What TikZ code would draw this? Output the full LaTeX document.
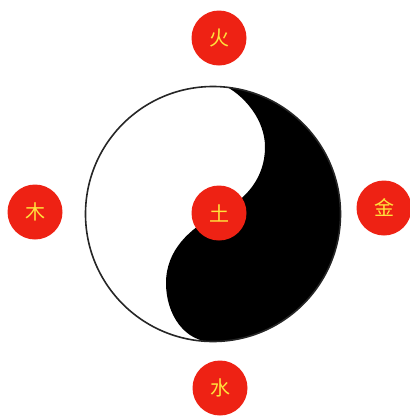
\documentclass[tikz,border=0pt]{standalone}
\usepackage{fontspec}
\newfontfamily\cjk{Noto Sans CJK SC}
\definecolor{elemred}{RGB}{238,34,20}
\definecolor{elemyellow}{RGB}{255,226,60}
\begin{document}
\begin{tikzpicture}[x=1pt,y=-1pt,
  element/.style={circle,fill=elemred,minimum size=55pt,inner sep=0pt,
    text=elemyellow,font=\cjk\fontsize{20}{20}\selectfont}]
\useasboundingbox (0,0) rectangle (410,416);
% yin-yang
\coordinate (yy) at (213,214);
\begin{scope}
  \clip (yy) circle[radius=127.5];
  \fill[black] (227,87) -- (227,60) -- (370,60) -- (370,370) -- (213,370) -- (213,342)
    .. controls (185,342) and (166,315) .. (166,283)
    .. controls (166,250) and (190,228) .. (218,214)
    .. controls (246,200) and (265,178) .. (265,147)
    .. controls (265,120) and (245,97) .. (227,87) -- cycle;
\end{scope}
\draw[line width=1.6pt,black!85] (yy) circle[radius=127.5];
% elements
\node[element] (fire)  at (219,38)  {火};
\node[element] (wood)  at (35,212)  {木};
\node[element] (metal) at (384,208) {金};
\node[element] (water) at (220,388) {水};
\node[element] (earth) at (219,213) {土};
\end{tikzpicture}
\end{document}
